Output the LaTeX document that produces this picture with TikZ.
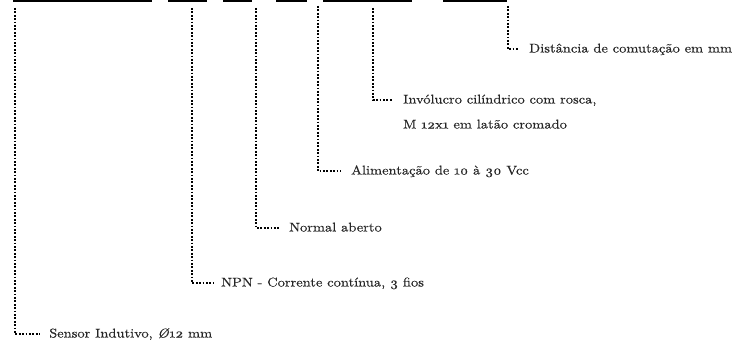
\documentclass[tikz,border=0pt]{standalone}
\usepackage{fontspec}
\setmainfont{lmroman10-regular}[Extension=.otf, ItalicFont=lmroman10-italic, Numbers=OldStyle, FakeStretch=1.14, FakeBold=0.3]
\begin{document}
\begin{tikzpicture}[x=1pt,y=-1pt,
  bar/.style={fill=black,draw=none,inner sep=0pt,minimum height=2.2pt,anchor=north west},
  dotline/.style={line width=1.8pt,dash pattern=on 1.8pt off 1.6pt,line cap=butt},
  lbl/.style={anchor=base west,inner sep=0pt,font=\fontsize{12.7}{25}\selectfont,text=black!85}]
\useasboundingbox (0,0) rectangle (735,350);
% bars
\node[bar,minimum width=139pt] (b1) at (13,0) {};
\node[bar,minimum width=39pt] (b2) at (168,0) {};
\node[bar,minimum width=29pt] (b3) at (223,0) {};
\node[bar,minimum width=31pt] (b4) at (276,0) {};
\node[bar,minimum width=89pt] (b5) at (323,0) {};
\node[bar,minimum width=64pt] (b6) at (443,0) {};
% labels
\node[lbl] (t1) at (49,337.5) {Sensor Indutivo, \textit{Ø}12 mm};
\node[lbl] (t2) at (221,286.5) {NPN - Corrente contínua, 3 fios};
\node[lbl] (t3) at (289,231.5) {Normal aberto};
\node[lbl] (t4) at (351,174.5) {Alimentação de 10 à 30 Vcc};
\node[lbl] (t5) at (403,103.5) {Invólucro cilíndrico com rosca,};
\node[lbl] (t5b) at ([yshift=-25pt]t5.base west) {M 12x1 em latão cromado};
\node[lbl] (t6) at (529,52.5) {Distância de comutação em mm};
% connector start and end points
\coordinate (c1) at (15,8);   \coordinate (e1) at (40,334);
\coordinate (c2) at (192,8);  \coordinate (e2) at (213,283);
\coordinate (c3) at (256,8);  \coordinate (e3) at (280,228);
\coordinate (c4) at (318,6);  \coordinate (e4) at (341,171);
\coordinate (c5) at (373,8);  \coordinate (e5) at (393,100);
\coordinate (c6) at (508,6);  \coordinate (e6) at (519,49);
\foreach \i in {1,...,6}{\draw[dotline] (c\i) |- (e\i);}
\end{tikzpicture}
\end{document}
